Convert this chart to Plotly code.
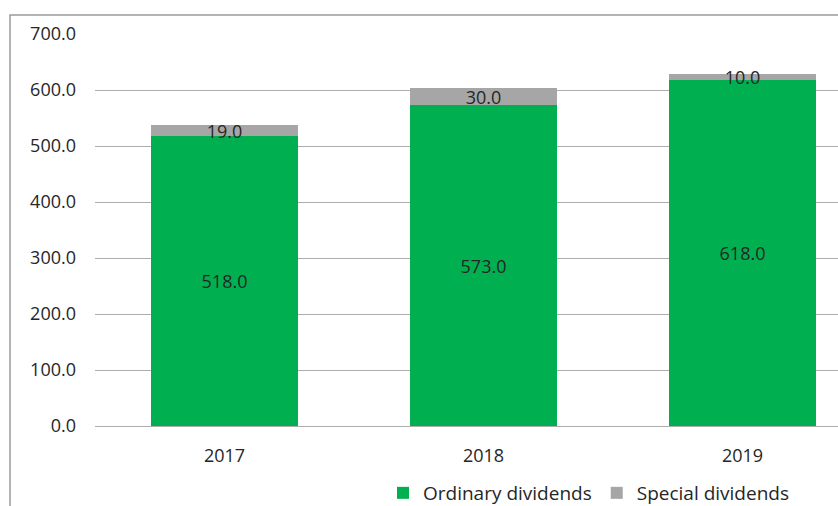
import plotly.graph_objects as go

years = ["2017", "2018", "2019"]
ordinary = [518.0, 573.0, 618.0]
special = [19.0, 30.0, 10.0]
ytick_vals = [0, 100, 200, 300, 400, 500, 600, 700]
ytick_text = ["0.0", "100.0", "200.0", "300.0", "400.0", "500.0", "600.0", "700.0"]

FONT = "Open Sans"
W, H = 838, 506
ML, MR, MT, MB = 95, 0, 34, 80
pw = W - ML - MR
ph = H - MT - MB

fig = go.Figure()
fig.add_trace(go.Bar(
    x=years, y=ordinary, name="Ordinary dividends",
    marker=dict(color="#00B050", line=dict(width=0)),
    text=[f"{v:.1f}" for v in ordinary], textposition="inside",
    insidetextanchor="middle", constraintext="none",
    textfont=dict(family=FONT, size=18, color="#262626"),
))
fig.add_trace(go.Bar(
    x=years, y=special, name="Special dividends",
    marker=dict(color="#A6A6A6", line=dict(width=0)),
    text=[f"{v:.1f}" for v in special], textposition="inside",
    insidetextanchor="middle", constraintext="none",
    textfont=dict(family=FONT, size=18, color="#262626"),
))

# outer chart border (extends beyond visible area like the cropped reference)
fig.add_shape(type="rect", xref="paper", yref="paper",
              x0=(10 - ML) / pw, x1=1.2, y0=-0.6, y1=(H - MB - 15) / ph,
              line=dict(color="#9a9a9a", width=1.5), fillcolor="rgba(0,0,0,0)", layer="below")

fig.update_layout(
    template="none",
    width=W, height=H,
    margin=dict(l=ML, r=MR, t=MT, b=MB, pad=0, autoexpand=False),
    barmode="stack", bargap=0.432,
    paper_bgcolor="white", plot_bgcolor="white",
    font=dict(family=FONT, size=18, color="#262626"),
    showlegend=True,
    legend=dict(orientation="h", x=383 / W, xanchor="left", xref="container",
                y=(H - 493) / H, yanchor="middle", yref="container",
                font=dict(family=FONT, size=19, color="#262626"),
                traceorder="normal", itemwidth=30, bgcolor="rgba(0,0,0,0)"),
    xaxis=dict(type="category", range=[-0.5, 2.5 - (872 - 838) / 259], showgrid=False,
               showline=False, zeroline=False, ticks="", automargin=False,
               ticklabelstandoff=17,
               tickfont=dict(family=FONT, size=18, color="#262626")),
    yaxis=dict(range=[0, 700], tickvals=ytick_vals, ticktext=ytick_text,
               showgrid=True, gridcolor="#ADADAD", gridwidth=1,
               zeroline=True, zerolinecolor="#ADADAD", zerolinewidth=1,
               showline=False, ticks="", ticklabelstandoff=18, automargin=False,
               tickfont=dict(family=FONT, size=18, color="#262626")),
)

fig.write_html("out.html")
